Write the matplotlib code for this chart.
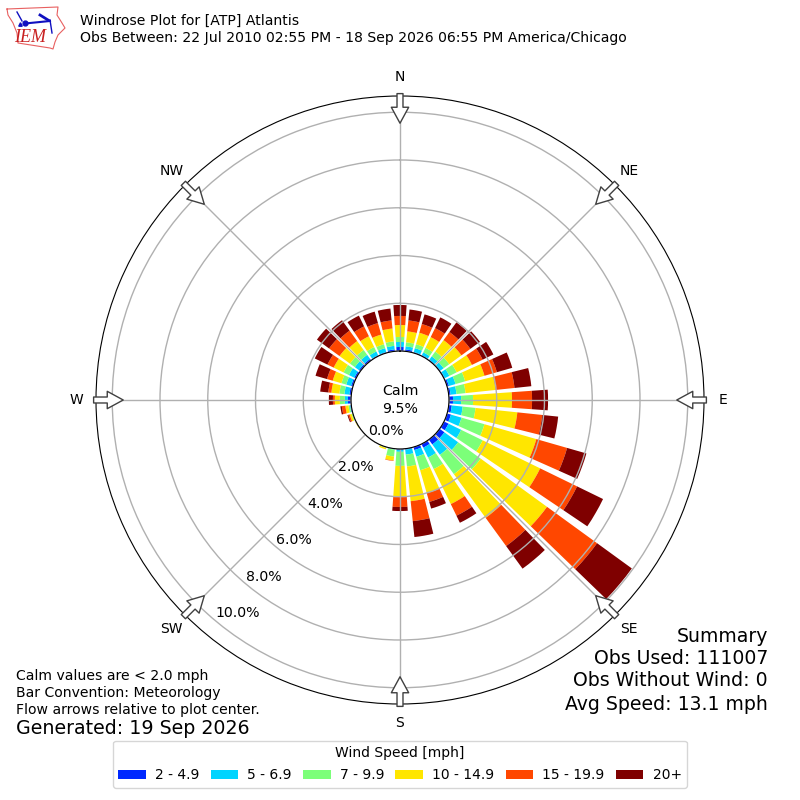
# Windrose for ATP, IEM style

import numpy as np
import matplotlib
matplotlib.use("Agg")
import matplotlib.pyplot as plt

# Direction bins, degrees clockwise from north
directions = np.arange(0, 360, 10)

# Percent of observations per speed class, one value per direction bin
speed_2_5 = [.17, .08, .04, .04, .04, .04, .04, .08, .08, .17, .13, .17,
             .21, .25, .25, .17, .13, .04, .04, 0, 0, 0, 0, 0,
             0, 0, .04, .13, .08, .08, .08, .08, .08, .04, .04, .08]
speed_5_7 = [.21, .13, .17, .13, .17, .17, .21, .29, .25, .34, .46, .46,
             .59, .71, .54, .46, .29, .21, .08, .04, 0, 0, 0, 0,
             0, 0, .02, .13, .21, .21, .25, .21, .21, .17, .17, .15]
speed_7_10 = [.21, .17, .17, .21, .25, .29, .34, .42, .38, .50, .54, 1.0,
              1.0, 1.17, 1.0, .54, .59, .50, .59, .29, .04, 0, 0, 0,
              0, .06, .06, .21, .21, .21, .25, .25, .25, .21, .17, .19]
speed_10_15 = [.50, .46, .50, .50, .59, .63, .71, .84, 1.26, 1.63, 1.76, 2.26,
               2.68, 3.43, 2.26, 1.63, 1.0, 1.46, 1.30, .17, .06, 0, 0, 0,
               .04, .08, .13, .21, .34, .38, .46, .54, .46, .50, .42, .54]
speed_15_20 = [.38, .46, .38, .42, .42, .46, .50, .54, .80, .84, 1.05, 1.34,
               1.72, 2.59, 1.46, .54, .38, .84, .42, .02, 0, 0, 0, 0,
               0, .06, .15, .08, .13, .25, .29, .54, .54, .46, .50, .34]
speed_20 = [.46, .46, .42, .50, .50, .50, .50, .67, .71, .67, .67, .84,
            1.21, 1.80, 1.17, .33, .29, .67, .17, 0, 0, 0, 0, 0,
            0, .04, .06, .17, .34, .50, .59, .63, .54, .50, .50, .50]

speed_series = [speed_2_5, speed_5_7, speed_7_10, speed_10_15, speed_15_20, speed_20]
speed_labels = ["2 - 4.9", "5 - 6.9", "7 - 9.9", "10 - 14.9", "15 - 19.9", "20+"]
speed_colors = ["#0028ff", "#00d4ff", "#7cff79", "#ffe600", "#ff4700", "#7f0000"]

compass_deg = [0, 45, 90, 135, 180, 225, 270, 315]
compass_labels = ["N", "NE", "E", "SE", "S", "SW", "W", "NW"]
ring_ticks = [0, 2, 4, 6, 8, 10]

fig = plt.figure(figsize=(8, 8), dpi=100)
ax = fig.add_axes([0.12, 0.12, 0.76, 0.76], projection="polar")
ax.set_theta_zero_location("N")
ax.set_theta_direction(-1)

# Stacked bars
base = np.zeros(len(directions))
for vals, lab, col in zip(speed_series, speed_labels, speed_colors):
    ax.bar(np.deg2rad(directions), vals, width=np.deg2rad(8), bottom=base,
           color=col, label=lab, linewidth=0)
    base = base + np.array(vals)

ax.set_rorigin(-2.05)
ax.set_ylim(0, 10.68)
ax.set_yticks(ring_ticks)
ax.set_yticklabels([f"{v:.1f}%" for v in ring_ticks], fontsize=10.2)
ax.set_rlabel_position(220)
ax.set_xticks(np.deg2rad(compass_deg))
ax.set_xticklabels(compass_labels, fontsize=10)
ax.tick_params(axis="x", pad=3.5)
ax.grid(True, color="#b0b0b0", linewidth=1)

# Flow arrows
for d in compass_deg:
    ax.annotate("", xy=(np.deg2rad(d), 9.54), xytext=(np.deg2rad(d), 10.78),
                arrowprops=dict(facecolor="white", edgecolor="#404040", lw=1,
                                width=4.3, headwidth=12.5, headlength=11.5, shrink=0),
                annotation_clip=False, zorder=5)

ax.text(0.5, 0.5, "Calm\n9.5%", transform=ax.transAxes, ha="center", va="center",
        fontsize=10.2, linespacing=1.3, zorder=6)

# Header
fig.text(80 / 800, 1 - 21 / 800, "Windrose Plot for [ATP] Atlantis", fontsize=10.05, va="center")
fig.text(80 / 800, 1 - 38 / 800,
         "Obs Between: 22 Jul 2010 02:55 PM - 18 Sep 2026 06:55 PM America/Chicago",
         fontsize=10.05, va="center")

# Footer notes
fig.text(16 / 800, 1 - 676 / 800, "Calm values are < 2.0 mph", fontsize=10.1, va="center")
fig.text(16 / 800, 1 - 693 / 800, "Bar Convention: Meteorology", fontsize=10.1, va="center")
fig.text(16 / 800, 1 - 710 / 800, "Flow arrows relative to plot center.", fontsize=10.1, va="center")
fig.text(16 / 800, 1 - 729 / 800, "Generated: 19 Sep 2026", fontsize=13.7, va="center")

for y, s in [(636, "Summary"), (659, "Obs Used: 111007"),
             (681, "Obs Without Wind: 0"), (705, "Avg Speed: 13.1 mph")]:
    fig.text(768 / 800, 1 - y / 800, s, fontsize=13.6, ha="right", va="center")

handles, labels = ax.get_legend_handles_labels()
fig.legend(handles, labels, title="Wind Speed [mph]", ncol=6, loc="lower center",
           bbox_to_anchor=(0.5, 0.015), borderaxespad=0, fontsize=10, title_fontsize=10,
           handleheight=0.7, handlelength=2, handletextpad=0.65, columnspacing=0.8,
           labelspacing=0.6)

# Logo, rough trace of the IEM mark
logo = fig.add_axes([5 / 800, 1 - 52 / 800, 62 / 800, 48 / 800])
logo.set_xlim(5, 67)
logo.set_ylim(52, 4)
logo.axis("off")
logo_x = [7, 58, 57, 62, 65, 58, 55, 53, 50, 18, 17, 13, 8, 7]
logo_y = [9, 7, 15, 23, 28, 35, 42, 49, 48, 43, 33, 23, 15, 9]
logo.plot(logo_x, logo_y, color="#e86060", lw=0.8)
logo.plot([25, 50], [23.5, 21], color="#1010c0", lw=1.5)
logo.plot([17, 22], [12, 21], color="#1010c0", lw=1)
logo.plot([40, 48], [15, 20], color="#1010c0", lw=2)
logo.plot([50, 52], [20, 33], color="#1010c0", lw=1)
logo.plot([25], [23.5], "o", color="#1010c0", ms=3.5)
logo.plot([20], [24], "^", color="#1010c0", ms=2.5)
logo.text(30, 38, "IEM", color="#c82020", fontsize=13, family="Liberation Serif",
          style="italic", ha="center", va="center")

fig.savefig("out.png", dpi=100)
